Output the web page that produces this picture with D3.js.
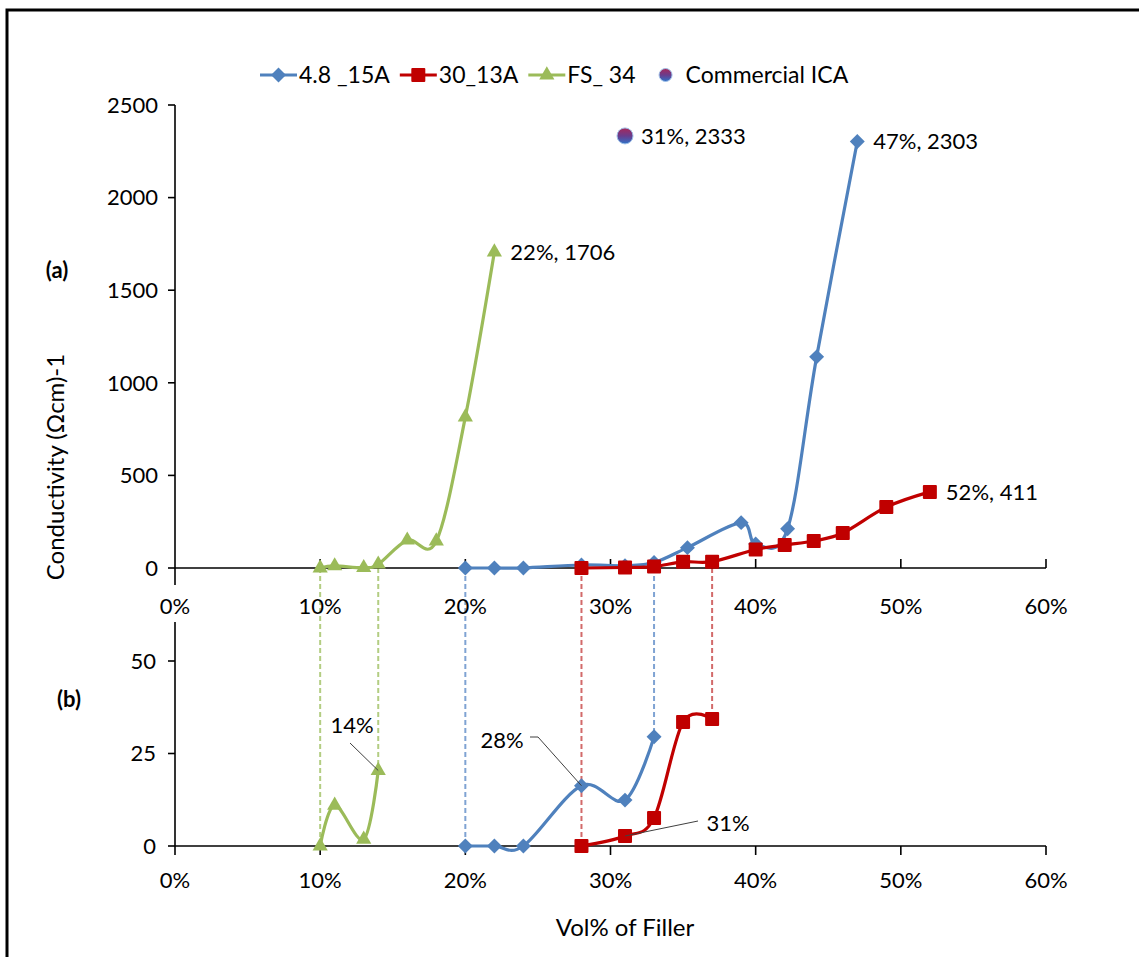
<!DOCTYPE html>
<html>
<head>
<meta charset="utf-8">
<script src="https://cdn.jsdelivr.net/npm/d3@7"></script>
<style>
  body { margin: 0; background: #fff; }
  svg { display: block; }
  text { font-family: Lato, "Open Sans", sans-serif; fill: #000; }
</style>
</head>
<body>
<svg id="chart" width="1139" height="957"></svg>
<script>
// ---- data: filler volume fraction vs. conductivity (Ωcm)^-1 ----
const fillerA = [0.20, 0.22, 0.24, 0.28, 0.31, 0.33, 0.353, 0.39, 0.40, 0.422, 0.442, 0.47];
const condA   = [0, 0, 0, 16.3, 12.4, 29.5, 110, 245, 130, 212, 1140, 2303];
const fillerB = [0.28, 0.31, 0.33, 0.35, 0.37, 0.40, 0.42, 0.44, 0.46, 0.49, 0.52];
const condB   = [0, 2.7, 7.6, 33.5, 34.3, 100, 124, 146, 189, 329, 411];
const fillerC = [0.10, 0.11, 0.13, 0.14, 0.16, 0.18, 0.20, 0.22];
const condC   = [0, 11, 1.8, 20.4, 150, 145, 815, 1706];
const fillerICA = [0.31];
const condICA   = [2333];
const seriesNames = ["4.8 _15A", "30_13A", "FS_ 34", "Commercial ICA"];

const xTicks    = [0, 0.1, 0.2, 0.3, 0.4, 0.5, 0.6];
const yTopTicks = [0, 500, 1000, 1500, 2000, 2500];
const yBotTicks = [0, 25, 50];
const yBotMax   = 60;
// percolation callouts in the low-range panel: [series index, filler]
const callouts  = [[2, 0.14], [0, 0.28], [1, 0.31]];

// ---- layout ----
const svg = d3.select("#chart");
const colors = ["#4f81bd", "#c00000", "#9bbb59"];
const dashColors = ["#7fa3d3", "#d26a6a", "#b3cd82"];

const x    = d3.scaleLinear([0, 0.6], [175, 1046]);
const yTop = d3.scaleLinear([0, 2500], [568, 105]);
const yBot = d3.scaleLinear([0, yBotMax], [846, 624]);

const series = [
  { name: seriesNames[0], xs: fillerA, ys: condA, shape: "diamond" },
  { name: seriesNames[1], xs: fillerB, ys: condB, shape: "square" },
  { name: seriesNames[2], xs: fillerC, ys: condC, shape: "triangle" }
].map((s, i) => ({ ...s, color: colors[i], dash: dashColors[i],
  pts: s.xs.map((v, j) => ({ x: v, y: s.ys[j] })) }));

// points in the low-range panel: leading points until the value leaves the panel range
series.forEach(s => {
  const cut = s.pts.findIndex(p => p.y > yBotMax);
  s.low = cut < 0 ? s.pts : s.pts.slice(0, cut);
});

const fmtPct = d3.format(".0%");
const pctTick = d => fmtPct(d);

// outer frame
svg.append("rect").attr("x", 7).attr("y", 10).attr("width", 1145).attr("height", 960)
  .attr("fill", "none").attr("stroke", "#000").attr("stroke-width", 3);

function marker(g, shape, color, cx, cy) {
  let sym;
  if (shape === "diamond") {
    sym = g.append("path").attr("d", d3.symbol(d3.symbolSquare, 112)())
      .attr("transform", `translate(${cx},${cy}) rotate(45)`);
  } else if (shape === "square") {
    sym = g.append("rect").attr("x", cx - 7).attr("y", cy - 7).attr("width", 14).attr("height", 14).attr("rx", 1);
  } else {
    sym = g.append("path").attr("d", d3.symbol(d3.symbolTriangle, 100)())
      .attr("transform", `translate(${cx},${cy})`);
  }
  sym.attr("fill", color);
}

// ---- drop lines linking the two panels ----
const drops = svg.append("g");
series.forEach(s => {
  [s.low[0], s.low[s.low.length - 1]].forEach(p => {
    drops.append("line")
      .attr("x1", x(p.x)).attr("x2", x(p.x))
      .attr("y1", yTop(0)).attr("y2", yBot(p.y))
      .attr("stroke", s.dash).attr("stroke-width", 2).attr("stroke-dasharray", "5,3");
  });
});

// ---- axes: upper panel ----
const axTop = svg.append("g").attr("stroke", "#000").attr("stroke-width", 1.6);
axTop.append("line").attr("x1", x(0)).attr("x2", x(0)).attr("y1", yTop(2500)).attr("y2", 585);
axTop.append("line").attr("x1", x(0)).attr("x2", x(0.6)).attr("y1", yTop(0)).attr("y2", yTop(0));
yTopTicks.forEach(t => axTop.append("line").attr("x1", x(0) - 7).attr("x2", x(0)).attr("y1", yTop(t)).attr("y2", yTop(t)));
xTicks.slice(1).forEach(t => axTop.append("line").attr("x1", x(t)).attr("x2", x(t)).attr("y1", yTop(0) - 9).attr("y2", yTop(0)));

svg.append("g").selectAll("text").data(yTopTicks).join("text")
  .attr("x", 158).attr("y", d => yTop(d)).attr("dy", "0.35em")
  .attr("text-anchor", "end").attr("font-size", 22).text(d => d);
svg.append("g").selectAll("text").data(xTicks).join("text")
  .attr("x", d => x(d)).attr("y", 606).attr("dy", "0.35em")
  .attr("text-anchor", "middle").attr("font-size", 22).text(pctTick);

// ---- axes: lower panel ----
const axBot = svg.append("g").attr("stroke", "#000").attr("stroke-width", 1.6);
axBot.append("line").attr("x1", x(0)).attr("x2", x(0)).attr("y1", yBot(yBotMax) - 2).attr("y2", yBot(0));
axBot.append("line").attr("x1", x(0)).attr("x2", x(0.6)).attr("y1", yBot(0)).attr("y2", yBot(0));
yBotTicks.forEach(t => axBot.append("line").attr("x1", x(0) - 7).attr("x2", x(0)).attr("y1", yBot(t)).attr("y2", yBot(t)));
xTicks.forEach(t => axBot.append("line").attr("x1", x(t)).attr("x2", x(t)).attr("y1", yBot(0)).attr("y2", yBot(0) + 9));

svg.append("g").selectAll("text").data(yBotTicks).join("text")
  .attr("x", 156).attr("y", d => yBot(d)).attr("dy", "0.35em")
  .attr("text-anchor", "end").attr("font-size", 22).text(d => d);
svg.append("g").selectAll("text").data(xTicks).join("text")
  .attr("x", d => x(d)).attr("y", 880).attr("dy", "0.35em")
  .attr("text-anchor", "middle").attr("font-size", 22).text(pctTick);

// ---- titles ----
svg.append("text").attr("transform", "translate(64,467) rotate(-90)")
  .attr("text-anchor", "middle").attr("font-size", 24).text("Conductivity (Ωcm)-1");
svg.append("text").attr("x", 625).attr("y", 928).attr("dy", "0.35em")
  .attr("text-anchor", "middle").attr("font-size", 24).text("Vol% of Filler");
svg.append("text").attr("x", 57).attr("y", 270).attr("dy", "0.35em")
  .attr("text-anchor", "middle").attr("font-size", 22).attr("font-weight", "bold").text("(a)");
svg.append("text").attr("x", 69).attr("y", 699).attr("dy", "0.35em")
  .attr("text-anchor", "middle").attr("font-size", 22).attr("font-weight", "bold").text("(b)");

// ---- series ----
const smooth = d3.curveCardinal.tension(0);
function drawSeries(s, pts, yScale) {
  const g = svg.append("g");
  g.append("path").datum(pts)
    .attr("d", d3.line().x(d => x(d.x)).y(d => yScale(d.y)).curve(smooth))
    .attr("fill", "none").attr("stroke", s.color).attr("stroke-width", 3.2).attr("stroke-linejoin", "round");
  pts.forEach(p => marker(g, s.shape, s.color, x(p.x), yScale(p.y)));
}
series.forEach(s => drawSeries(s, s.pts, yTop));
series.forEach(s => drawSeries(s, s.low, yBot));

// commercial ICA point with its gradient fill
const defs = svg.append("defs");
const grad = defs.append("linearGradient").attr("id", "icaFill").attr("x1", 0).attr("y1", 0).attr("x2", 0).attr("y2", 1);
grad.append("stop").attr("offset", "0%").attr("stop-color", "#a8285a");
grad.append("stop").attr("offset", "50%").attr("stop-color", "#6a3c8c");
grad.append("stop").attr("offset", "100%").attr("stop-color", "#2f73c8");

fillerICA.forEach((f, i) => {
  svg.append("circle").attr("cx", x(f)).attr("cy", yTop(condICA[i])).attr("r", 8)
    .attr("fill", "url(#icaFill)").attr("stroke", "#9ec0e8").attr("stroke-width", 1);
});

// ---- end-point labels (upper panel) ----
const endLabels = series.map(s => s.pts[s.pts.length - 1])
  .concat(fillerICA.map((f, i) => ({ x: f, y: condICA[i] })));
svg.append("g").selectAll("text").data(endLabels).join("text")
  .attr("x", d => x(d.x) + 16).attr("y", d => yTop(d.y)).attr("dy", "0.35em")
  .attr("font-size", 22).text(d => `${fmtPct(d.x)}, ${d.y}`);

// ---- callouts (lower panel) ----
const calloutPos = [
  { tx: 352, ty: 725, lx: 350, ly: 743, anchor: "middle" },
  { tx: 502, ty: 740, lx: 530, ly: 737, anchor: "middle" },
  { tx: 728, ty: 823, lx: 698, ly: 821, anchor: "middle" }
];
callouts.forEach(([si, f], k) => {
  const p = series[si].low.find(q => q.x === f);
  const c = calloutPos[k];
  const px = x(p.x), py = yBot(p.y);
  svg.append("polyline")
    .attr("points", k === 1 ? `${c.lx},${c.ly} ${c.lx + 8},${c.ly} ${px},${py}` : `${c.lx},${c.ly} ${px},${py}`)
    .attr("fill", "none").attr("stroke", "#404040").attr("stroke-width", 1);
  svg.append("text").attr("x", c.tx).attr("y", c.ty).attr("dy", "0.35em")
    .attr("text-anchor", c.anchor).attr("font-size", 22).text(fmtPct(p.x));
});

// ---- legend ----
const leg = svg.append("g");
let lx = 260;
const ly = 75;
series.forEach(s => {
  leg.append("line").attr("x1", lx).attr("x2", lx + 37).attr("y1", ly).attr("y2", ly)
    .attr("stroke", s.color).attr("stroke-width", 3.2);
  marker(leg, s.shape, s.color, lx + 18.5, ly);
  const t = leg.append("text").attr("x", lx + 39).attr("y", ly).attr("dy", "0.35em")
    .attr("font-size", 23).text(s.name);
  lx += 39 + t.node().getComputedTextLength() + 10;
});
leg.append("circle").attr("cx", lx + 20).attr("cy", ly).attr("r", 6.5)
  .attr("fill", "url(#icaFill)").attr("stroke", "#9ec0e8").attr("stroke-width", 1);
leg.append("text").attr("x", lx + 40).attr("y", ly).attr("dy", "0.35em")
  .attr("font-size", 23).text(seriesNames[3]);
</script>
</body>
</html>
